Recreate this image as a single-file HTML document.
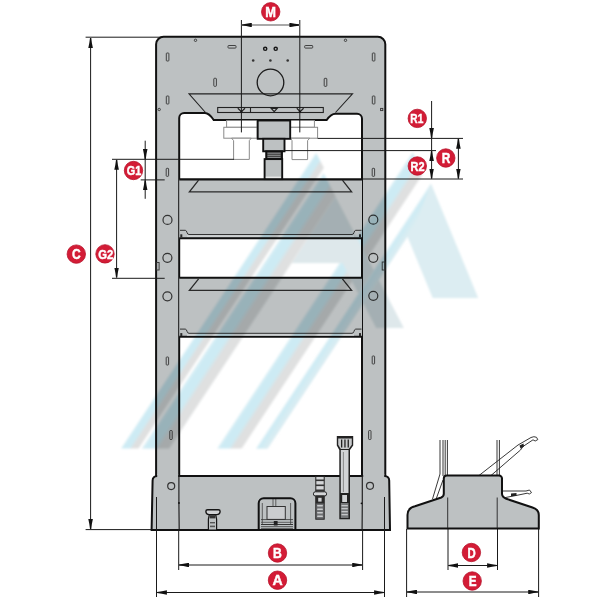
<!DOCTYPE html>
<html><head><meta charset="utf-8">
<style>
html,body{margin:0;padding:0;background:#fff;width:600px;height:600px;overflow:hidden}
svg{display:block}
text{font-family:"Liberation Sans",sans-serif;font-weight:bold;fill:#fff}
</style></head>
<body>
<svg width="600" height="600" viewBox="0 0 600 600">
<defs>
<marker id="ar" viewBox="0 0 10 4.6" refX="10" refY="2.3" markerWidth="10" markerHeight="4.6" markerUnits="userSpaceOnUse" orient="auto-start-reverse">
<path d="M0,0 Q5,1.2 10,1.7 L10,2.9 Q5,3.4 0,4.6 Z" fill="#111"/>
</marker>
</defs>
<rect width="600" height="600" fill="#fff"/>

<!-- ===== FRAME ===== -->
<g id="frame">
<path fill="#bdc1c2" stroke="#111" stroke-width="2" fill-rule="evenodd"
 d="M156.1,44.3 A7.5,7.5 0 0 1 163.6,36.8 H377.8 A7.5,7.5 0 0 1 385.3,44.3 V476 H156.1 Z
    M179.2,476 V118 A5,5 0 0 1 184.2,113 H205 Q209,113 213.7,120 H326.7 Q331,113.7 335.5,113.7 H357 A5,5 0 0 1 362,118.7 V476 Z"/>
</g>

<!-- BASE -->
<path fill="#bdc1c2" stroke="#111" stroke-width="2" d="M151.6,530 L152.6,480.5 A4.5,4.5 0 0 1 157.1,476 H384.7 A4.5,4.5 0 0 1 389.2,480.5 L390,530 Z"/>
<rect x="157.2" y="474" width="20.9" height="3.2" fill="#bdc1c2"/>
<rect x="363.2" y="474" width="21" height="3.2" fill="#bdc1c2"/>
<path d="M178.9,476 V503 L179.2,529.5" stroke="#222" stroke-width="1.2" fill="none"/>
<path d="M362.3,476 V503 L362.1,529.5" stroke="#222" stroke-width="1.2" fill="none"/>
<circle cx="179" cy="503" r="0.9" fill="#111"/>
<circle cx="361.5" cy="503.3" r="0.9" fill="#111"/>

<!-- TABLES -->
<g stroke="#111">
<rect x="179.2" y="179.4" width="182.8" height="59" fill="#bdc1c2" stroke="none"/>
<line x1="179.2" y1="179.4" x2="362" y2="179.4" stroke-width="2.1"/>
<line x1="179.2" y1="238.2" x2="362" y2="238.2" stroke-width="2.1"/>
<rect x="179.2" y="277.7" width="182.8" height="59" fill="#bdc1c2" stroke="none"/>
<line x1="179.2" y1="277.7" x2="362" y2="277.7" stroke-width="2.1"/>
<line x1="179.2" y1="336.8" x2="362" y2="336.8" stroke-width="2.1"/>
</g>
<g fill="none" stroke="#2a2a2a" stroke-width="1.3">
<polyline points="198.6,180.2 189.4,191.8 351.6,191.8 342.4,180.2"/>
<polyline points="198.6,278.8 189.4,290.4 351.6,290.4 342.4,278.8"/>
</g>
<g fill="none" stroke="#333" stroke-width="1">
<path d="M180,230.3 H185.3 Q186.5,230.5 187,232.5 Q187.5,234.5 189,234.5 H352 Q353.5,234.5 354,232.5 Q354.5,230.5 355.7,230.3 H361.5"/>
<path d="M180,329.1 H185.3 Q186.5,329.3 187,331.3 Q187.5,333.3 189,333.3 H352 Q353.5,333.3 354,331.3 Q354.5,329.3 355.7,329.1 H361.5"/>
</g>
<g fill="#2a2a2a">
<rect x="180.3" y="234.3" width="2" height="3"/>
<rect x="359" y="234.3" width="2" height="3"/>
<rect x="180.3" y="333.1" width="2" height="3"/>
<rect x="359" y="333.1" width="2" height="3"/>
</g>
<rect x="187" y="235.3" width="167" height="1.6" fill="#d0d3d4"/>
<rect x="187" y="334.1" width="167" height="1.6" fill="#d0d3d4"/>

<!-- trapezoid + slot bar -->
<g fill="none" stroke="#222" stroke-width="1.1">
<polyline points="205.5,112.5 189,93.9 352.5,93.9 335.5,112.5"/>
<rect x="217.7" y="107.5" width="105.6" height="5"/>
<line x1="250.5" y1="107.5" x2="250.5" y2="112.5"/>
</g>
<g fill="none" stroke="#222" stroke-width="1.2">
<path d="M237.8,108.3 L241.4,111.6 L245,108.3"/>
<path d="M271.2,108.4 H277.2 L274.2,111.6 Z"/>
<path d="M296.8,108.3 L300.2,111.6 L303.6,108.3"/>
</g>
<circle cx="241.4" cy="111.7" r="1.1" fill="#111"/>
<circle cx="299.8" cy="111.7" r="1.1" fill="#111"/>

<!-- top plate features -->
<g fill="none" stroke="#333" stroke-width="0.9">
<rect x="166.3" y="53" width="2.6" height="8" rx="0.7"/>
<rect x="166.3" y="96" width="2.6" height="8" rx="0.7"/>
<rect x="372.3" y="53" width="2.6" height="8" rx="0.7"/>
<rect x="372.3" y="96" width="2.6" height="8" rx="0.7"/>
<rect x="213.8" y="78.3" width="2.6" height="8" rx="0.7"/>
<rect x="324.2" y="78.3" width="2.6" height="8" rx="0.7"/>
<rect x="228" y="45.5" width="8" height="2.6" rx="0.7"/>
<rect x="304.7" y="45.5" width="8" height="2.6" rx="0.7"/>
<circle cx="195.5" cy="40.3" r="1.2"/>
<circle cx="345.5" cy="40.3" r="1.2"/>
<circle cx="159.2" cy="109.5" r="1.2"/>
<rect x="380.6" y="108.4" width="2.2" height="2.2"/>
<circle cx="270.5" cy="82.5" r="13.3" stroke="#1a1a1a" stroke-width="1.3"/>
<circle cx="265.2" cy="48.8" r="1.6" stroke-width="1.4" stroke="#151515"/>
<circle cx="275.7" cy="48.8" r="1.6" stroke-width="1.4" stroke="#151515"/>
</g>
<g fill="#333">
<circle cx="253.2" cy="60.5" r="1.3"/>
<circle cx="270.4" cy="60.5" r="1.3"/>
<circle cx="287.7" cy="60.5" r="1.3"/>
</g>

<!-- column features -->
<g fill="none" stroke="#333" stroke-width="0.9">
<rect x="166.2" y="168.3" width="2.4" height="8" rx="0.7"/>
<rect x="372.2" y="168.3" width="2.4" height="8" rx="0.7"/>
<rect x="166.2" y="357" width="2.4" height="8" rx="0.7"/>
<rect x="372.2" y="356" width="2.4" height="8" rx="0.7"/>
<rect x="169.8" y="430.5" width="2.4" height="9" rx="0.7"/>
<rect x="368.6" y="430.5" width="2.4" height="9" rx="0.7"/>
<circle cx="167.5" cy="219.9" r="4.5" stroke-width="1.2"/>
<circle cx="167.4" cy="257.8" r="4.5" stroke-width="1.2"/>
<circle cx="167.4" cy="296.3" r="4.5" stroke-width="1.2"/>
<circle cx="373.3" cy="219.7" r="4.5" stroke-width="1.2"/>
<circle cx="373.3" cy="257.8" r="4.5" stroke-width="1.2"/>
<circle cx="373.3" cy="295.8" r="4.5" stroke-width="1.2"/>
<circle cx="171.2" cy="486.1" r="3.5" stroke-width="1.2"/>
<circle cx="370" cy="485.8" r="3.5" stroke-width="1.2"/>
<rect x="156.3" y="262.5" width="2.8" height="7.5"/>
<rect x="382.2" y="262" width="2.8" height="8"/>
</g>

<!-- tool holders -->
<g fill="#fff" stroke="#8a8a8a" stroke-width="1">
<rect x="226.6" y="120.5" width="30.6" height="6.8"/>
<rect x="223.8" y="127.3" width="33.4" height="10.9"/>
<path d="M231.6,138.2 H251.2 L249.3,140.6 V159.4 H233.6 V140.6 Z"/>
<rect x="290.2" y="120.5" width="24.2" height="6.8"/>
<rect x="290.2" y="127.3" width="27.4" height="10.9"/>
<path d="M290.5,138.2 H309.7 L307.6,140.6 V159.6 H292 V140.6 Z"/>
</g>

<!-- cylinder -->
<g fill="#bdc1c2" stroke="#111" stroke-width="1.9">
<rect x="257.7" y="120.5" width="32.5" height="18.3"/>
<rect x="263.2" y="138.8" width="21.3" height="12.5"/>
<rect x="266.2" y="151.3" width="15.8" height="7.8" fill="#3c3c3c"/>
<rect x="264.6" y="159.1" width="17.6" height="20"/>
</g>
<g stroke="#b8babc" stroke-width="0.7">
<line x1="267.5" y1="153.2" x2="280.5" y2="153.2"/>
<line x1="267.5" y1="155.3" x2="280.5" y2="155.3"/>
<line x1="267.5" y1="157.4" x2="280.5" y2="157.4"/>
</g>
<rect x="265.8" y="176.6" width="15.2" height="1.5" fill="#e8e8e8"/>

<!-- base details -->
<g stroke="#444" stroke-width="0.8" fill="none">
<line x1="262.3" y1="503" x2="262.3" y2="524"/>
<line x1="290.6" y1="503" x2="290.6" y2="524"/>
<line x1="273" y1="499" x2="273" y2="506.5"/>
<line x1="275.8" y1="499" x2="275.8" y2="506.5"/>
<rect x="267" y="506.5" width="18.3" height="12.9" fill="#cbcdcf" stroke="#333" stroke-width="1"/>
<line x1="261" y1="519.6" x2="293" y2="519.6" stroke="#333"/>
<line x1="261" y1="522.3" x2="293" y2="522.3"/>
<line x1="261" y1="524.5" x2="293" y2="524.5" stroke="#333" stroke-width="1"/>
<line x1="261" y1="526.6" x2="293" y2="526.6"/>
<line x1="261" y1="528.4" x2="293" y2="528.4"/>
</g>
<rect x="273.8" y="521" width="3.8" height="4.5" fill="#222"/>
<path fill="none" stroke="#111" stroke-width="2" d="M258.7,530 V503.3 A5,5 0 0 1 263.7,498.3 H290.4 A5,5 0 0 1 295.4,503.3 V530"/>
<!-- screw -->
<rect x="315.8" y="476.5" width="8.4" height="15.5" fill="#d4d6d8" stroke="#222" stroke-width="1"/>
<g fill="#333">
<rect x="315.8" y="479.5" width="8.4" height="1.6"/>
<rect x="315.8" y="484.5" width="8.4" height="1.6"/>
<rect x="315.8" y="489.5" width="8.4" height="1.6"/>
</g>
<rect x="313.4" y="491.8" width="13.2" height="4.2" rx="2" fill="#d4d6d8" stroke="#222" stroke-width="1"/>
<rect x="315.8" y="496" width="8.4" height="23.2" fill="#6e7072" stroke="#222" stroke-width="1"/><rect x="315.8" y="496" width="8.4" height="7.5" fill="#2a2a2a"/>
<rect x="318.2" y="497.8" width="3.4" height="3.8" fill="#cfd1d3"/>
<g fill="#c9cbcd">
<rect x="317" y="505" width="6" height="1.6" rx="0.8"/>
<rect x="317" y="508.5" width="6" height="1.6" rx="0.8"/>
<rect x="317" y="512" width="6" height="1.6" rx="0.8"/>
<rect x="317" y="515.5" width="6" height="1.6" rx="0.8"/>
</g>
<!-- pedal rod -->
<path d="M336.8,436 H353.2 V445.5 L350,450 V519.2 H339.3 V450 L336.8,445.5 Z" fill="#222"/><rect x="340.8" y="503" width="7.7" height="15" fill="#76787a"/>
<path d="M338.2,438.5 H351.8 V444.8 L348.7,449 H340.8 L338.2,444.8 Z" fill="#c8cacc"/>
<g fill="#222">
<rect x="341" y="439.5" width="1.3" height="8"/>
<rect x="344.3" y="439.5" width="1.3" height="8"/>
<rect x="347.6" y="439.5" width="1.3" height="8"/>
</g>
<rect x="340.8" y="450" width="7.7" height="43" fill="#d2d4d6"/>
<line x1="343.4" y1="452" x2="343.4" y2="492" stroke="#777" stroke-width="0.8"/>
<rect x="342.2" y="495" width="4.8" height="7" fill="#d2d4d6"/>
<g fill="#c4c6c8">
<rect x="341.5" y="505" width="6.3" height="1.3"/>
<rect x="341.5" y="508" width="6.3" height="1.3"/>
<rect x="341.5" y="511" width="6.3" height="1.3"/>
<rect x="341.5" y="514" width="6.3" height="1.3"/>
</g>
<!-- small T screw -->
<g stroke="#151515">
<path fill="#bdc1c2" stroke-width="1.2" d="M209.3,514.6 L208.4,519 V530 H216.6 V519 L215.7,514.6 Z"/>
<path fill="#d0d2d4" stroke-width="1.4" d="M205.9,511.2 Q205.9,509.8 207.6,509.8 H218.4 Q220.1,509.8 220.1,511.2 Q220.1,514.6 216.6,514.6 H209.4 Q205.9,514.6 205.9,511.2 Z"/>
<rect x="209.6" y="515.2" width="5.8" height="3.2" fill="#333" stroke="none"/>
<rect x="210" y="522" width="5" height="1.4" fill="#555" stroke="none"/>
<rect x="210" y="525.6" width="5" height="1.6" fill="#555" stroke="none"/>
</g>

<!-- ===== DIMENSIONS ===== -->
<g stroke="#1a1a1a" stroke-width="1" fill="none">
<!-- C -->
<line x1="85.6" y1="37.2" x2="160" y2="37.2"/>
<line x1="85.6" y1="529.6" x2="151" y2="529.6"/>
<line x1="90.6" y1="38" x2="90.6" y2="529" marker-start="url(#ar)" marker-end="url(#ar)"/>
<!-- G2 -->
<line x1="112" y1="159.3" x2="234" y2="159.3"/>
<line x1="112" y1="278.3" x2="164.7" y2="278.3"/>
<line x1="116.6" y1="159.8" x2="116.6" y2="277.5" marker-start="url(#ar)" marker-end="url(#ar)"/>
<!-- G1 -->
<line x1="140.7" y1="179.9" x2="164.7" y2="179.9"/>
<line x1="145.2" y1="140.7" x2="145.2" y2="159" marker-end="url(#ar)"/>
<line x1="145.2" y1="198.8" x2="145.2" y2="180.3" marker-end="url(#ar)"/>
<line x1="145.2" y1="159" x2="145.2" y2="180"/>
<!-- R lines -->
<line x1="317.7" y1="138.4" x2="463" y2="138.4"/>
<line x1="284.7" y1="150.6" x2="436" y2="150.6"/>
<line x1="362" y1="179" x2="463" y2="179"/>
<line x1="431.6" y1="101" x2="431.6" y2="138" marker-end="url(#ar)"/>
<line x1="431.6" y1="138.4" x2="431.6" y2="150.6"/>
<line x1="431.6" y1="151" x2="431.6" y2="178.6" marker-start="url(#ar)" marker-end="url(#ar)"/>
<line x1="458.4" y1="138.8" x2="458.4" y2="178.6" marker-start="url(#ar)" marker-end="url(#ar)"/>
<!-- M -->
<line x1="241.4" y1="20" x2="241.4" y2="132.4"/>
<line x1="299.8" y1="20" x2="299.8" y2="132.4"/>
<line x1="241.8" y1="25" x2="299.4" y2="25" stroke="#8c8c8c" stroke-width="1.3" marker-start="url(#ar)" marker-end="url(#ar)"/>
<!-- B / A -->
<line x1="178.7" y1="529.5" x2="178.7" y2="570"/>
<line x1="362.6" y1="529.5" x2="362.6" y2="570"/>
<line x1="179.1" y1="565" x2="362.2" y2="565" marker-start="url(#ar)" marker-end="url(#ar)"/>
<line x1="156.5" y1="497" x2="156.5" y2="597"/>
<line x1="384.5" y1="497" x2="384.5" y2="597"/>
<line x1="156.9" y1="592.5" x2="384.1" y2="592.5" marker-start="url(#ar)" marker-end="url(#ar)"/>
<!-- D / E -->
<line x1="448" y1="498.6" x2="448" y2="570"/>
<line x1="497.5" y1="498.6" x2="497.5" y2="570"/>
<line x1="448.4" y1="565.5" x2="497.1" y2="565.5" marker-start="url(#ar)" marker-end="url(#ar)"/>
<line x1="406.6" y1="529" x2="406.6" y2="597"/>
<line x1="538.6" y1="529" x2="538.6" y2="597"/>
<line x1="407" y1="592" x2="538.2" y2="592" marker-start="url(#ar)" marker-end="url(#ar)"/>
</g>

<!-- ===== SIDE VIEW ===== -->
<g fill="none" stroke="#222" stroke-width="0.9">
<line x1="440" y1="440" x2="440" y2="474"/>
<line x1="443" y1="440" x2="443" y2="476"/>
<line x1="445.2" y1="440" x2="445.2" y2="476"/>
<line x1="447.4" y1="440" x2="447.4" y2="476"/>
<line x1="440" y1="474" x2="432.5" y2="499"/>
<line x1="443" y1="480" x2="436.5" y2="498"/>
<line x1="497" y1="440" x2="497" y2="476"/>
<line x1="499.4" y1="440" x2="499.4" y2="476"/>
<path d="M479,475.5 L518,445 L531,437.5 Q534,436 536.5,437.3 L537.8,439.6 L535.2,441 L533,439.8 L523,446.5 L520.5,450 L491,475.5"/>
<path d="M502,491 L526,491 L529.5,490 L531.5,492.6 L529.3,494 L527.2,493.2 L517,495.3 L504,497.8"/>
</g>
<g fill="#222">
<path d="M519.5,445.5 L523.5,443.5 L524,446.5 L520.5,448.5 Z"/>
<path d="M511,493.5 L516.5,493 L516.5,495.8 L511,496.2 Z"/>
</g>
<path fill="#bdc1c2" stroke="#111" stroke-width="2"
 d="M407.5,528.6 V515 Q407.5,508 415,506.3 L441.3,497.5 Q443.8,496.5 443.8,493.8 V478.5 A3,3 0 0 1 446.8,475.5 H499 A3,3 0 0 1 502,478.5 V493.8 Q502,497 506.3,498.8 L532.5,507.5 Q538.8,509.5 538.8,515 V528.6 Z"/>
<g stroke="#222" stroke-width="0.9">
<line x1="447.7" y1="497.5" x2="447.7" y2="528"/>
<line x1="497.2" y1="497.5" x2="497.2" y2="528"/>
</g>

<!-- WM START -->
<g id="wm" style="mix-blend-mode:multiply" filter="url(#wmblur)">
<defs>
<filter id="wmblur" x="-5%" y="-5%" width="110%" height="110%"><feGaussianBlur stdDeviation="0.9"/></filter>
<linearGradient id="g1" gradientUnits="userSpaceOnUse" x1="182.50" y1="355.00" x2="195.04" y2="363.28"><stop offset="0" stop-color="#e4f3f7"/><stop offset="0.12" stop-color="#cdebf4"/><stop offset="0.45" stop-color="#cdebf4"/><stop offset="0.62" stop-color="#dfe0e0"/><stop offset="0.92" stop-color="#dfe0e0"/><stop offset="1" stop-color="#eaeaea"/></linearGradient>
<linearGradient id="g3" gradientUnits="userSpaceOnUse" x1="278.70" y1="355.00" x2="296.11" y2="366.49"><stop offset="0" stop-color="#e4f3f7"/><stop offset="0.12" stop-color="#cdebf4"/><stop offset="0.45" stop-color="#cdebf4"/><stop offset="0.62" stop-color="#dfe0e0"/><stop offset="0.92" stop-color="#dfe0e0"/><stop offset="1" stop-color="#eaeaea"/></linearGradient>
<linearGradient id="gl" gradientUnits="userSpaceOnUse" x1="203.28" y1="355.00" x2="222.78" y2="367.87"><stop offset="0" stop-color="#e4f3f7"/><stop offset="0.12" stop-color="#cdebf4"/><stop offset="0.45" stop-color="#cdebf4"/><stop offset="0.62" stop-color="#dfe0e0"/><stop offset="0.92" stop-color="#dfe0e0"/><stop offset="1" stop-color="#eaeaea"/></linearGradient>
<linearGradient id="gr" gradientUnits="userSpaceOnUse" x1="317.81" y1="355.00" x2="325.82" y2="360.29"><stop offset="0" stop-color="#e4f3f7"/><stop offset="0.2" stop-color="#cdebf4"/><stop offset="1" stop-color="#dcedf2"/></linearGradient>
<clipPath id="cA"><polygon points="323.4,173.0 404.0,328.0 376.0,328.0 342.4,263.3 291.8,263.3 169.6,448.5 141.6,448.5"/></clipPath>
</defs>
<polygon points="316.0,152.7 324.0,168.0 138.8,448.5 120.8,448.5" fill="url(#g1)"/>
<polygon points="412.7,152.0 422.3,175.3 242.0,448.5 217.0,448.5" fill="url(#g3)"/>
<g clip-path="url(#cA)"><polygon points="323.4,173.0 404.0,328.0 376.0,328.0 342.4,263.3 291.8,263.3 169.6,448.5 141.6,448.5" fill="#dee8eb"/><polygon points="371.6,100.0 399.6,100.0 135.6,500.0 107.6,500.0" fill="url(#gl)"/></g>
<polygon points="431.0,183.5 478.2,297.9 432.7,297.9 407.4,236.6 267.6,448.5 256.1,448.5" fill="#dcedf2"/>
<polygon points="431.0,183.5 416.1,223.5 267.6,448.5 256.1,448.5" fill="url(#gr)"/>
</g>
<!-- WM END -->
<!-- ===== LABELS ===== -->
<g fill="#d31c36" stroke="#b8142c" stroke-width="0.8">
<circle cx="270.7" cy="11.8" r="9.2"/>
<circle cx="76.3" cy="254.1" r="9.2"/>
<circle cx="105.0" cy="253.9" r="9.2"/>
<circle cx="133.5" cy="170.5" r="9.2"/>
<circle cx="417.3" cy="118.4" r="9.2"/>
<circle cx="417.3" cy="166.0" r="9.2"/>
<circle cx="445.8" cy="158.0" r="9.2"/>
<circle cx="277.5" cy="553.0" r="9.2"/>
<circle cx="277.5" cy="580.2" r="9.2"/>
<circle cx="471.4" cy="552.5" r="9.2"/>
<circle cx="472.2" cy="581.0" r="9.2"/>
</g>
<g text-anchor="middle" stroke="#fff" stroke-width="0.45">
<text x="270.7" y="16.9" font-size="14.2" textLength="10.7" lengthAdjust="spacingAndGlyphs">M</text>
<text x="76.3" y="259.2" font-size="14.2" textLength="8.7" lengthAdjust="spacingAndGlyphs">C</text>
<text x="105.8" y="258.6" font-size="13.0" textLength="15.0" lengthAdjust="spacingAndGlyphs">G2</text>
<text x="134.1" y="175.2" font-size="13.0" textLength="14.5" lengthAdjust="spacingAndGlyphs">G1</text>
<text x="416.8" y="123.3" font-size="13.6" textLength="13.0" lengthAdjust="spacingAndGlyphs">R1</text>
<text x="417.6" y="170.7" font-size="13.0" textLength="14.0" lengthAdjust="spacingAndGlyphs">R2</text>
<text x="446.1" y="163.1" font-size="14.2" textLength="8.6" lengthAdjust="spacingAndGlyphs">R</text>
<text x="277.5" y="558.0" font-size="14.0" textLength="8.8" lengthAdjust="spacingAndGlyphs">B</text>
<text x="277.5" y="585.3" font-size="14.2" textLength="10.2" lengthAdjust="spacingAndGlyphs">A</text>
<text x="471.7" y="557.6" font-size="14.2" textLength="8.2" lengthAdjust="spacingAndGlyphs">D</text>
<text x="472.6" y="586.1" font-size="14.2" textLength="7.8" lengthAdjust="spacingAndGlyphs">E</text>
</g>
<!-- LABELS END -->
</svg>
</body></html>
